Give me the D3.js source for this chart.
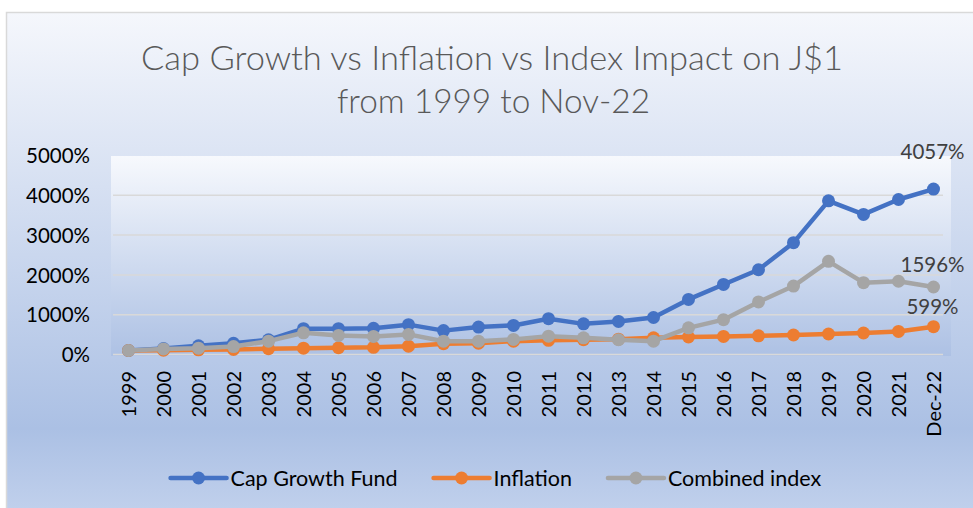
<!DOCTYPE html>
<html>
<head>
<meta charset="utf-8">
<script src="https://cdn.jsdelivr.net/npm/d3@7/dist/d3.min.js"></script>
<style>
  body { margin: 0; background: #fff; }
  svg { display: block; font-family: Lato, "Open Sans", sans-serif; }
</style>
</head>
<body>
<div id="chart"></div>
<script>
// categories on the x axis
var years = ["1999","2000","2001","2002","2003","2004","2005","2006","2007","2008","2009","2010",
  "2011","2012","2013","2014","2015","2016","2017","2018","2019","2020","2021","Dec-22"];

// value of J$1 in percent
var capGrowth = [100,150,220,280,370,650,650,660,750,600,690,730,
  900,770,830,930,1385,1760,2130,2810,3860,3520,3895,4157];
var inflation = [100,108,117,125,145,160,170,180,210,270,285,335,
  355,370,385,420,440,455,470,490,515,540,580,699];
var combined = [100,140,160,200,335,545,480,455,505,335,335,380,
  460,420,370,335,670,875,1320,1720,2340,1805,1840,1696];

var seriesNames = ["Cap Growth Fund", "Inflation", "Combined index"];
var endLabels = ["4057%", "599%", "1596%"];
var yTicks = [0, 1000, 2000, 3000, 4000, 5000];

var colors = {blue: "#4472c4", orange: "#ed7d31", grey: "#a5a5a5"};
var series = [
  {name: seriesNames[0], values: capGrowth, color: colors.blue, label: endLabels[0], lift: 37},
  {name: seriesNames[1], values: inflation, color: colors.orange, label: endLabels[1], lift: 20},
  {name: seriesNames[2], values: combined, color: colors.grey, label: endLabels[2], lift: 22}
];

var W = 973, H = 508;
var plot = {left: 111, right: 951, top: 156, bottom: 356};

var svg = d3.select("#chart").append("svg")
  .attr("width", W)
  .attr("height", H);

var defs = svg.append("defs");
var og = defs.append("linearGradient").attr("id", "outerGrad")
  .attr("x1", 0).attr("y1", 0).attr("x2", 0).attr("y2", 1);
og.append("stop").attr("offset", "0%").attr("stop-color", "#f5f7fc");
og.append("stop").attr("offset", "82%").attr("stop-color", "#abc0e4");
og.append("stop").attr("offset", "100%").attr("stop-color", "#c3d2ed");

var pg = defs.append("linearGradient").attr("id", "plotGrad")
  .attr("x1", 0).attr("y1", 0).attr("x2", 0).attr("y2", 1);
pg.append("stop").attr("offset", "0%").attr("stop-color", "#f7f9fd");
pg.append("stop").attr("offset", "100%").attr("stop-color", "#adc1e4");

// chart area
svg.append("rect")
  .attr("x", 6.5).attr("y", 12.5)
  .attr("width", W).attr("height", H)
  .attr("fill", "url(#outerGrad)")
  .attr("stroke", "#d9d9d9")
  .attr("stroke-width", 1.5);

// plot area
svg.append("rect")
  .attr("x", plot.left).attr("y", plot.top)
  .attr("width", plot.right - plot.left).attr("height", plot.bottom - plot.top)
  .attr("fill", "url(#plotGrad)");

// title (light weight, like the original)
var title = svg.append("g")
  .attr("fill", "#595959")
  .style("font-size", "33px")
  .style("font-weight", 300);
title.append("text").attr("x", 141).attr("y", 70)
  .attr("textLength", 702).attr("lengthAdjust", "spacingAndGlyphs")
  .text("Cap Growth vs Inflation vs Index Impact on J$1");
title.append("text").attr("x", 337).attr("y", 113)
  .attr("textLength", 313).attr("lengthAdjust", "spacingAndGlyphs")
  .text("from 1999 to Nov-22");

var x = d3.scaleBand()
  .domain(years)
  .range([plot.left, plot.right]);

var y = d3.scaleLinear()
  .domain([0, 5000])
  .range([354.5, 155.5]);

function cx(d, i) { return x(years[i]) + x.bandwidth() / 2; }

// gridlines
svg.append("g")
  .selectAll("line")
  .data(yTicks.filter(function(t){ return t < 5000; }))
  .enter().append("line")
  .attr("x1", plot.left + 2).attr("x2", plot.right - 8)
  .attr("y1", function(d){ return y(d); })
  .attr("y2", function(d){ return y(d); })
  .attr("stroke", "#d9d9d9")
  .attr("stroke-width", 1.5);

// y axis
var yAxis = d3.axisLeft(y)
  .tickValues(yTicks)
  .tickSize(0)
  .tickPadding(0)
  .tickFormat(function(d){ return d + "%"; });

svg.append("g")
  .attr("transform", "translate(90,0)")
  .call(yAxis)
  .call(function(g){
    g.select(".domain").remove();
    g.selectAll("text")
      .attr("fill", "#000")
      .attr("dy", "0.35em")
      .style("font-size", "20.5px")
      .style("font-family", "Lato, sans-serif");
  });

// x axis, rotated labels
var xAxis = d3.axisBottom(x).tickSize(0).tickPadding(0);
svg.append("g")
  .attr("transform", "translate(0,371)")
  .call(xAxis)
  .call(function(g){
    g.select(".domain").remove();
    g.selectAll("text")
      .attr("transform", "rotate(-90)")
      .attr("text-anchor", "end")
      .attr("x", 0)
      .attr("y", 0)
      .attr("dy", "0.35em")
      .attr("fill", "#000")
      .style("font-size", "20px")
      .style("font-family", "Lato, sans-serif");
  });

// lines and markers
var line = d3.line()
  .x(cx)
  .y(function(d){ return y(d); });

series.forEach(function(s){
  var g = svg.append("g");
  g.append("path")
    .attr("d", line(s.values))
    .attr("fill", "none")
    .attr("stroke", s.color)
    .attr("stroke-width", 4.5)
    .attr("stroke-linejoin", "round")
    .attr("stroke-linecap", "round");
  g.selectAll("circle")
    .data(s.values)
    .enter().append("circle")
    .attr("cx", cx)
    .attr("cy", function(d){ return y(d); })
    .attr("r", 6.5)
    .attr("fill", s.color);
});

// end labels
series.forEach(function(s){
  var last = s.values.length - 1;
  svg.append("text")
    .attr("x", cx(s.values[last], last) - 1)
    .attr("y", y(s.values[last]) - s.lift)
    .attr("dy", "0.35em")
    .attr("text-anchor", "middle")
    .attr("fill", "#404040")
    .style("font-size", "20.5px")
    .text(s.label);
});

// legend
var legend = svg.append("g").attr("transform", "translate(0,478)");
var items = legend.selectAll("g").data(series).enter().append("g");
items.append("line")
  .attr("x1", 0).attr("x2", 56)
  .attr("stroke", function(d){ return d.color; })
  .attr("stroke-width", 4.5)
  .attr("stroke-linecap", "round");
items.append("circle")
  .attr("cx", 28).attr("r", 6.5)
  .attr("fill", function(d){ return d.color; });
items.append("text")
  .attr("x", 60)
  .attr("dy", "0.35em")
  .attr("fill", "#000")
  .style("font-size", "21.5px")
  .text(function(d){ return d.name; });

var widths = [];
items.each(function(){ widths.push(this.getBBox().width); });
var gap = 36;
var total = d3.sum(widths) + gap * (widths.length - 1);
var pos = 496 - total / 2;
items.attr("transform", function(d, i){
  var t = "translate(" + pos + ",0)";
  pos += widths[i] + gap;
  return t;
});
</script>
</body>
</html>
